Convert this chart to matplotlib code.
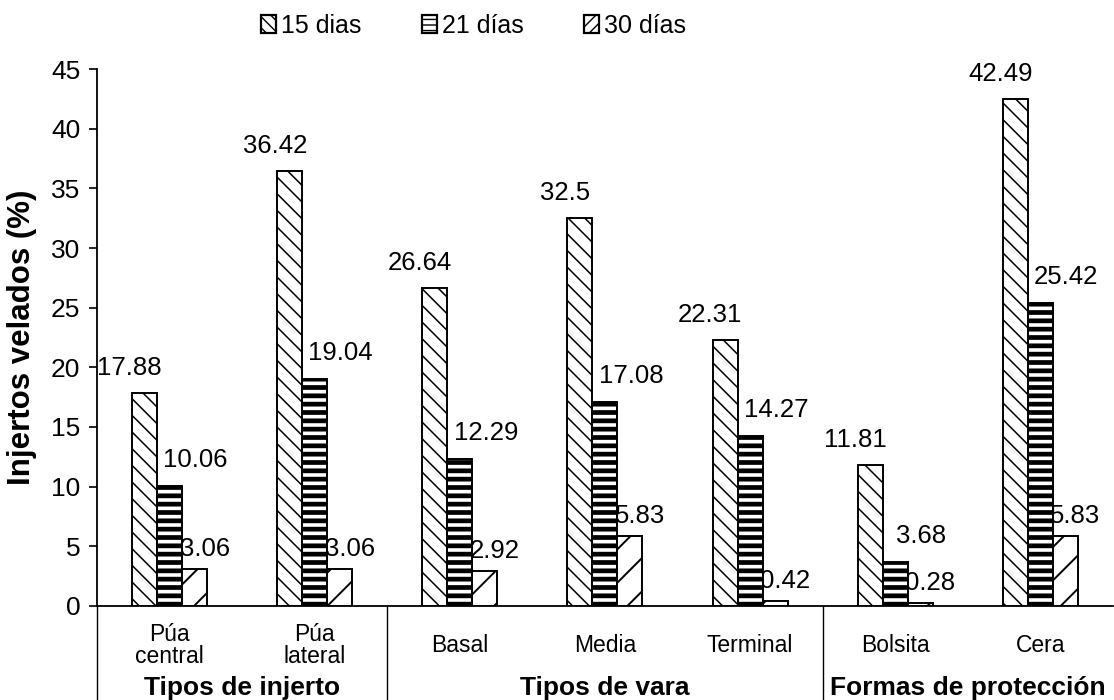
import matplotlib
matplotlib.use("Agg")
import matplotlib.pyplot as plt
from matplotlib.patches import Patch
import numpy as np

plt.rcParams["font.family"] = ["Liberation Sans", "DejaVu Sans"]

# Injertos velados por categoría y días después del injerto
categorias = ["Púa\ncentral", "Púa\nlateral", "Basal", "Media", "Terminal", "Bolsita", "Cera"]
grupos = ["Tipos de injerto", "Tipos de vara", "Formas de protección"]
grupo_tamanos = [2, 3, 2]
series = ["15 dias", "21 días", "30 días"]
dias_15 = [17.88, 36.42, 26.64, 32.5, 22.31, 11.81, 42.49]
dias_21 = [10.06, 19.04, 12.29, 17.08, 14.27, 3.68, 25.42]
dias_30 = [3.06, 3.06, 2.92, 5.83, 0.42, 0.28, 5.83]
y_ticks = [0, 5, 10, 15, 20, 25, 30, 35, 40, 45]

fig = plt.figure(figsize=(11.14, 7), dpi=100)
ax = fig.add_axes([0.0871, 0.1343, 0.9119, 0.7671])

x = np.arange(len(categorias))
w = 0.1724
hatches = ["\\\\", "--", "/"]
hatch_lw = [1.1, 3.4, 1.4]
legend_hatches = ["\\\\\\", "---", "///"]
# label offsets in pixels (dx, dy above bar top)
label_off = [(-15, 25), (26, 26), (10, 20)]

for k, vals in enumerate([dias_15, dias_21, dias_30]):
    pos = x + (k - 1) * w
    with plt.rc_context({"hatch.linewidth": hatch_lw[k]}):
        b = ax.bar(pos, vals, width=w, color="white", edgecolor="black",
                   linewidth=1.4, hatch=hatches[k], zorder=3)
    for p in b:
        if hasattr(p, "set_hatch_linewidth"):
            p.set_hatch_linewidth(hatch_lw[k])
    dx, dy = label_off[k]
    for xi, v in zip(pos, vals):
        ax.annotate(f"{v:g}", (xi, v), xytext=(dx, dy), textcoords="offset pixels",
                    ha="center", va="center", fontsize=18.5, zorder=1)

ax.set_xlim(-0.5, len(categorias) - 0.5)
ax.set_ylim(0, 45)
ax.set_yticks(y_ticks)
ax.tick_params(axis="y", labelsize=19, length=6, width=1.2, pad=6)
ax.set_xticks([])
for s in ["top", "right"]:
    ax.spines[s].set_visible(False)
for s in ["left", "bottom"]:
    ax.spines[s].set_linewidth(1.3)

ax.set_ylabel("Injertos velados (%)", fontsize=22.5, fontweight="bold", labelpad=10)

# category labels and group labels under the axis
trans = ax.get_xaxis_transform()
for xi, cat in zip(x, categorias):
    ax.text(xi, -0.073, cat, transform=trans, ha="center", va="center",
            fontsize=16.5, linespacing=0.95)

bordes = np.concatenate([[0], np.cumsum(grupo_tamanos)]) - 0.5
for i, g in enumerate(grupos):
    centro = (bordes[i] + bordes[i + 1]) / 2
    ax.text(centro, -0.166, g, transform=trans, ha="center", va="baseline",
            fontsize=19, fontweight="bold")
for b in bordes[:-1]:
    ax.plot([b, b], [0, -0.18], transform=trans, color="black", lw=1.0, clip_on=False)

handles = []
for k in range(3):
    with plt.rc_context({"hatch.linewidth": 1.6}):
        handles.append(Patch(facecolor="white", edgecolor="black", linewidth=1.6,
                             hatch=legend_hatches[k]))
fig.legend(handles=handles, labels=series, loc="center", bbox_to_anchor=(0.425, 0.963),
           ncol=3, frameon=False, fontsize=18, handlelength=0.6, handleheight=0.7,
           handletextpad=0.2, columnspacing=2.4)

fig.savefig("out.png", dpi=100)
